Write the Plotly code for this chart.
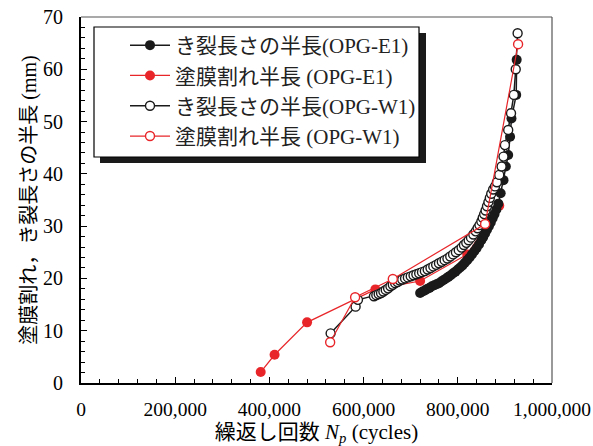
import plotly.graph_objects as go

# ---- data (x in cycles, y in mm) ----
e1_crack_x = [720000, 725000, 730000, 735000, 740000, 745000, 750000, 755000, 760000, 765000,
              770000, 775000, 780000, 785000, 790000, 795000, 800000, 805000, 810000, 815000,
              820000, 825000, 830000, 835000, 840000, 845000, 850000, 854000, 858000, 862000,
              866000, 870000, 874000, 878000, 882000, 886000, 891000, 897000, 902000, 907000,
              911000, 914000, 924000, 925000]
e1_crack_y = [17.2, 17.5, 17.7, 18.0, 18.2, 18.5, 18.7, 18.9, 19.1, 19.4,
              19.7, 20.0, 20.3, 20.6, 21.0, 21.3, 21.7, 22.1, 22.5, 23.0,
              23.5, 24.0, 24.6, 25.2, 25.8, 26.5, 27.3, 27.9, 28.6, 29.3,
              30.0, 30.7, 31.5, 32.3, 33.2, 34.3, 36.3, 38.8, 41.4, 43.6,
              47.1, 50.6, 55.1, 61.8]

e1_coat_x = [381500, 411000, 480000, 625000, 720000, 820000, 888000]
e1_coat_y = [2.1, 5.4, 11.6, 17.9, 19.5, 24.6, 33.9]

w1_crack_x = [530000, 583000, 588000, 622000, 627000, 632000, 637000, 642000, 647000, 652000,
              657000, 662000, 667000, 672000, 677000, 682000, 688000, 694000, 700000, 706000,
              712000, 718000, 724000, 730000, 736000, 742000, 748000, 754000, 760000, 766000,
              772000, 778000, 784000, 790000, 796000, 802000, 808000, 813000, 818000, 823000,
              828000, 833000, 838000, 842000, 846000, 850000, 853000, 856000, 859000, 862000,
              865000, 868000, 871000, 875000, 879000, 883000, 888000, 893000, 897000, 900000,
              907000, 913000, 919000, 923000, 927000]
w1_crack_y = [9.5, 14.6, 15.9, 16.6, 16.8, 17.0, 17.2, 17.5, 17.8, 18.1,
              18.5, 18.8, 19.1, 19.3, 19.6, 19.8, 20.0, 20.2, 20.4, 20.6,
              20.8, 21.0, 21.2, 21.4, 21.7, 22.0, 22.3, 22.6, 22.9, 23.2,
              23.5, 23.8, 24.2, 24.6, 25.0, 25.4, 25.9, 26.4, 26.8, 27.3,
              27.8, 28.4, 29.0, 29.6, 30.2, 30.9, 31.6, 32.3, 33.0, 33.8,
              34.6, 35.4, 36.2, 37.0, 37.6, 38.4, 39.8, 41.4, 43.3, 45.5,
              48.4, 51.6, 55.1, 60.0, 66.9]

w1_coat_x = [529000, 582000, 662000, 858000, 928000]
w1_coat_y = [7.8, 16.4, 19.9, 30.4, 64.8]

names = ["き裂長さの半長(OPG-E1)", "塗膜割れ半長 (OPG-E1)",
         "き裂長さの半長(OPG-W1)", "塗膜割れ半長 (OPG-W1)"]

x_ticks = [0, 200000, 400000, 600000, 800000, 1000000]
x_tick_text = ["0", "200,000", "400,000", "600,000", "800,000", "1,000,000"]

BLACK = "#1a1a1a"
RED = "#e8262a"
FONT = "Liberation Serif, Times New Roman, Noto Sans CJK JP"

FIG_W, FIG_H = 593, 446
# plot-area in page pixels
L, R, T, B = 81, 552, 17, 383
W, H = R - L, B - T


def px(xp):
    return (xp - L) / W


def py(yp):
    return (B - yp) / H


fig = go.Figure()

# draw order: red filled, black filled, black open, red open
fig.add_trace(go.Scatter(
    x=e1_coat_x, y=e1_coat_y, name=names[1], mode="lines+markers", legendrank=2,
    legendgroup="b",
    line=dict(color=RED, width=1.2),
    marker=dict(symbol="circle", size=10, color=RED, line=dict(width=0))))
fig.add_trace(go.Scatter(
    x=e1_crack_x, y=e1_crack_y, name=names[0], mode="lines+markers", legendrank=1,
    legendgroup="a",
    line=dict(color=BLACK, width=1.5),
    marker=dict(symbol="circle", size=10, color=BLACK, line=dict(width=0))))
fig.add_trace(go.Scatter(
    x=w1_crack_x, y=w1_crack_y, name=names[2], mode="lines+markers", legendrank=3,
    legendgroup="c",
    line=dict(color=BLACK, width=1.5),
    marker=dict(symbol="circle", size=9, color="white", line=dict(width=1.4, color=BLACK))))
fig.add_trace(go.Scatter(
    x=w1_coat_x, y=w1_coat_y, name=names[3], mode="lines+markers", legendrank=4,
    legendgroup="d",
    line=dict(color=RED, width=1.2),
    marker=dict(symbol="circle", size=9, color="white", line=dict(width=1.4, color=RED))))

# legend shadow and box
fig.add_shape(type="rect", xref="paper", yref="paper",
              x0=px(100), x1=px(426), y0=py(163), y1=py(33),
              fillcolor="#1a1a1a", line=dict(width=0), layer="above")
fig.add_shape(type="rect", xref="paper", yref="paper",
              x0=px(94), x1=px(419), y0=py(157), y1=py(27),
              fillcolor="white", line=dict(color="black", width=1.2), layer="above")
# thin top and right frame lines
fig.add_shape(type="line", xref="paper", yref="paper", x0=0, x1=1, y0=1, y1=1,
              line=dict(color="#555555", width=1.2), layer="above")
fig.add_shape(type="line", xref="paper", yref="paper", x0=1, x1=1, y0=0, y1=1,
              line=dict(color="#555555", width=1.2), layer="above")

fig.update_layout(
    width=FIG_W, height=FIG_H,
    margin=dict(l=L, r=FIG_W - R, t=T, b=FIG_H - B),
    paper_bgcolor="white", plot_bgcolor="white",
    font=dict(family=FONT, size=20, color="black"),
    showlegend=True,
    legend=dict(x=px(125), y=py(25), xanchor="left", yanchor="top",
                bgcolor="rgba(0,0,0,0)", borderwidth=0,
                font=dict(family=FONT, size=21, color="#222"),
                tracegroupgap=0, itemwidth=40),
)

fig.update_xaxes(
    range=[0, 1000000], tickvals=x_ticks, ticktext=x_tick_text,
    tickfont=dict(family=FONT, size=19.5),
    ticks="inside", ticklen=6, tickwidth=1.2, tickcolor="black",
    minor=dict(dtick=40000, ticks="inside", ticklen=4, tickwidth=1, tickcolor="black"),
    showgrid=False, zeroline=False, automargin=False,
    showline=True, linecolor="black", linewidth=2,
    ticklabelstandoff=8, ticklabeloverflow="allow",
    title=dict(text="繰返し回数 <i>N</i><sub><i>p</i></sub> (cycles)", standoff=5,
               font=dict(family=FONT, size=21)),
)
fig.update_yaxes(
    range=[0, 70], dtick=10,
    ticks="inside", ticklen=6, tickwidth=1.2, tickcolor="black",
    minor=dict(dtick=2, ticks="inside", ticklen=4, tickwidth=1, tickcolor="black"),
    showgrid=False, zeroline=False, automargin=False,
    showline=True, linecolor="black", linewidth=2,
    ticklabelstandoff=12, ticklabeloverflow="allow",
    title=dict(text="塗膜割れ，き裂長さの半長 (mm)", standoff=1,
               font=dict(family=FONT, size=20)),
)

# remove the browser's default 8px page margin so the figure fills the window
fig.write_html("out.html",
               config={"displayModeBar": False},
               post_script="document.body.style.margin='0';document.body.style.overflow='hidden';")
